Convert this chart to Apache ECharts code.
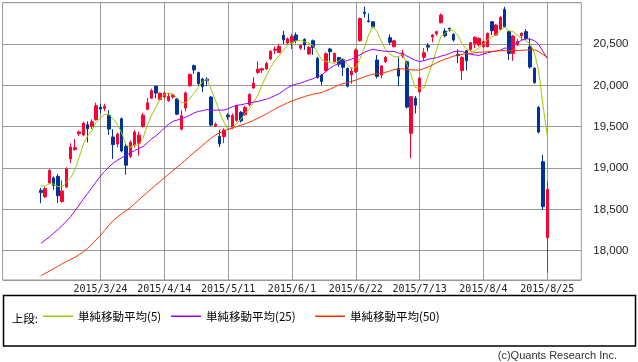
<!DOCTYPE html>
<html><head><meta charset="utf-8">
<script src="https://cdn.jsdelivr.net/npm/echarts@6/dist/echarts.min.js"></script>
<style>html,body{margin:0;padding:0;background:#fff}#c{width:638px;height:362px}</style>
</head><body><div id="c"></div>
<script>
const dates = ['2015/3/4','2015/3/5','2015/3/6','2015/3/9','2015/3/10','2015/3/11','2015/3/12','2015/3/13','2015/3/16','2015/3/17',
'2015/3/18','2015/3/19','2015/3/20','2015/3/23','2015/3/24','2015/3/25','2015/3/26','2015/3/27','2015/3/30','2015/3/31',
'2015/4/1','2015/4/2','2015/4/3','2015/4/6','2015/4/7','2015/4/8','2015/4/9','2015/4/10','2015/4/13','2015/4/14',
'2015/4/15','2015/4/16','2015/4/17','2015/4/20','2015/4/21','2015/4/22','2015/4/23','2015/4/24','2015/4/27','2015/4/28',
'2015/4/30','2015/5/1','2015/5/7','2015/5/8','2015/5/11','2015/5/12','2015/5/13','2015/5/14','2015/5/15','2015/5/18',
'2015/5/19','2015/5/20','2015/5/21','2015/5/22','2015/5/25','2015/5/26','2015/5/27','2015/5/28','2015/5/29','2015/6/1',
'2015/6/2','2015/6/3','2015/6/4','2015/6/5','2015/6/8','2015/6/9','2015/6/10','2015/6/11','2015/6/12','2015/6/15',
'2015/6/16','2015/6/17','2015/6/18','2015/6/19','2015/6/22','2015/6/23','2015/6/24','2015/6/25','2015/6/26','2015/6/29',
'2015/6/30','2015/7/1','2015/7/2','2015/7/3','2015/7/6','2015/7/7','2015/7/8','2015/7/9','2015/7/10','2015/7/13',
'2015/7/14','2015/7/15','2015/7/16','2015/7/17','2015/7/21','2015/7/22','2015/7/23','2015/7/24','2015/7/27','2015/7/28',
'2015/7/29','2015/7/30','2015/7/31','2015/8/3','2015/8/4','2015/8/5','2015/8/6','2015/8/7','2015/8/10','2015/8/11',
'2015/8/12','2015/8/13','2015/8/14','2015/8/17','2015/8/18','2015/8/19','2015/8/20','2015/8/21','2015/8/24','2015/8/25'];

const opens = [18730,18652,18820,18880,18900,18595,18770,19110,19225,19415,
19400,19525,19505,19585,19735,19720,19640,19375,19290,19597,
19262,19142,19280,19300,19504,19710,19845,19990,19830,19860,
19815,19860,19835,19470,19726,19996,20238,20157,20077,20075,
19859,19505,19384,19380,19640,19490,19577,19674,19646,19767,
19968,20157,20185,20198,20319,20425,20399,20605,20512,20520,
20610,20450,20556,20380,20540,20327,20125,20178,20440,20286,
20335,20315,20206,20125,20166,20540,20885,20780,20770,20306,
20125,20286,20577,20468,20206,20355,20286,19420,19843,19923,
20339,20480,20585,20625,20758,20657,20690,20617,20375,20178,
20419,20435,20508,20488,20468,20468,20770,20609,20677,20919,
20649,20387,20490,20600,20650,20467,20206,19734,19077,18157];

const closes = [18703,18751,18971,18790,18665,18723,18991,19254,19246,19437,
19544,19476,19560,19754,19713,19746,19471,19285,19411,19206,
19034,19312,19435,19397,19640,19790,19937,19907,19905,19908,
19869,19885,19652,19634,19909,20133,20187,20020,19983,20058,
19520,19531,19291,19460,19620,19640,19754,19570,19732,19890,
20026,20196,20202,20264,20413,20437,20472,20551,20563,20590,
20543,20485,20488,20460,20457,20096,20046,20382,20407,20387,
20257,20219,19990,20174,20428,20809,20868,20771,20706,20109,
20235,20339,20522,20539,20112,20390,19737,19863,19760,20089,
20395,20463,20610,20650,20850,20600,20680,20548,20360,20339,
20298,20516,20581,20568,20528,20629,20661,20730,20822,20710,
20387,20597,20530,20630,20568,20222,20033,19435,18533,18743];

const lows = [18575,18640,18805,18740,18580,18580,18760,19060,19210,19390,
19385,19310,19470,19575,19660,19690,19400,19110,19250,19190,
18920,19120,19250,19150,19490,19700,19835,19845,19815,19840,
19800,19840,19640,19455,19686,19980,20140,20000,19920,19990,
19505,19495,19255,19300,19585,19470,19560,19550,19630,19750,
19960,20140,20150,20190,20305,20380,20390,20500,20500,20440,
20510,20430,20430,20370,20370,20080,20000,20170,20290,20280,
20225,20113,19975,20020,20150,20530,20820,20760,20690,20085,
20085,20270,20490,20460,19990,20330,19720,19118,19660,19900,
20300,20410,20520,20600,20750,20580,20650,20530,20270,20065,
20180,20420,20450,20470,20450,20460,20610,20600,20670,20700,
20307,20297,20480,20540,20550,20200,20020,19420,18492,17734];

const highs = [18760,18770,18990,18900,18930,18850,19010,19300,19350,19455,
19560,19565,19590,19790,19780,19778,19700,19470,19430,19610,
19300,19335,19460,19440,19666,19850,19960,20000,19915,19920,
19910,19895,19845,19700,19925,20145,20252,20165,20090,20100,
19870,19550,19465,19480,19665,19660,19765,19690,19750,19905,
20100,20290,20215,20285,20425,20470,20500,20660,20580,20620,
20640,20495,20570,20475,20555,20345,20135,20400,20455,20395,
20345,20325,20215,20215,20447,20820,20955,20870,20775,20367,
20245,20355,20617,20550,20340,20430,20300,19870,19870,20100,
20450,20510,20620,20660,20870,20690,20700,20630,20435,20350,
20425,20525,20595,20580,20540,20640,20780,20740,20840,20950,
20660,20610,20560,20640,20680,20570,20220,19750,19158,18835];

const ma5 = [18786,18779,18813,18806,18776,18780,18828,18885,18976,19130,
19294,19391,19453,19554,19609,19650,19649,19594,19525,19424,
19281,19250,19280,19277,19364,19515,19640,19734,19836,19889,
19905,19895,19844,19790,19790,19843,19903,19977,20046,20076,
19954,19822,19677,19556,19468,19489,19536,19591,19662,19716,
19796,19883,20009,20116,20220,20302,20358,20427,20487,20518,
20540,20540,20527,20507,20484,20395,20309,20288,20278,20264,
20296,20330,20252,20205,20214,20324,20454,20610,20716,20653,
20538,20430,20380,20347,20347,20376,20257,20124,19972,19967,
19969,20114,20263,20437,20588,20629,20673,20662,20602,20500,
20441,20409,20417,20457,20495,20558,20586,20614,20666,20706,
20662,20648,20607,20569,20536,20502,20390,20173,19757,19395];

const ma25 = [18089,18128,18166,18212,18256,18305,18358,18412,18482,18553,
18625,18694,18765,18835,18903,18960,19014,19060,19095,19125,
19155,19183,19210,19236,19260,19304,19351,19389,19433,19483,
19529,19564,19580,19596,19615,19638,19667,19685,19694,19708,
19699,19701,19702,19700,19717,19741,19759,19764,19777,19787,
19797,19807,19819,19833,19853,19876,19900,19936,19973,19999,
20016,20027,20046,20065,20081,20104,20125,20169,20210,20240,
20266,20284,20300,20318,20340,20371,20398,20420,20438,20426,
20418,20412,20411,20410,20391,20385,20355,20330,20303,20288,
20299,20316,20325,20335,20353,20366,20385,20407,20414,20410,
20390,20376,20368,20362,20379,20394,20407,20415,20426,20450,
20451,20486,20512,20546,20565,20558,20541,20494,20410,20326];

const ma50 = [17699,17726,17752,17782,17812,17842,17870,17895,17920,17952,
17988,18028,18080,18134,18187,18246,18308,18365,18408,18448,
18485,18520,18568,18615,18660,18705,18750,18795,18838,18882,
18925,18968,19010,19052,19097,19143,19190,19230,19275,19320,
19362,19400,19425,19448,19468,19485,19502,19518,19535,19555,
19578,19603,19628,19655,19685,19715,19742,19765,19790,19812,
19830,19848,19866,19880,19895,19902,19914,19936,19955,19979,
20004,20022,20033,20048,20064,20084,20103,20120,20136,20140,
20148,20157,20174,20192,20196,20201,20192,20189,20185,20185,
20203,20221,20247,20273,20297,20317,20335,20354,20367,20376,
20381,20388,20395,20401,20403,20407,20410,20414,20419,20422,
20419,20421,20422,20425,20427,20429,20429,20410,20373,20340];

const tickLabels = ['2015/3/24','2015/4/14','2015/5/11','2015/6/1','2015/6/22','2015/7/13','2015/8/4','2015/8/25'];
const seriesNames = ['単純移動平均(5)','単純移動平均(25)','単純移動平均(50)'];

const PAD_BEFORE = 9, PAD_AFTER = 8;
const categories = [];
for (let i = 0; i < PAD_BEFORE; i++) categories.push('pre' + i);
dates.forEach(d => categories.push(d));
for (let i = 0; i < PAD_AFTER; i++) categories.push('post' + i);

const showTick = (idx, val) => tickLabels.indexOf(val) >= 0;
const candleData = dates.map((d, i) => [PAD_BEFORE + i, opens[i], closes[i], lows[i], highs[i]]);
const lineData = arr => arr.map((v, i) => [PAD_BEFORE + i, v]);

const legendCommon = {
  padding: 0, icon: 'rect', itemWidth: 30, itemHeight: 1.5, selectedMode: false, top: 310.5,
  textStyle: { fontFamily: '"Noto Sans CJK JP"', fontSize: 11.5, color: '#000' }
};

const chart = echarts.init(document.getElementById('c'), null, { renderer: 'canvas' });
chart.setOption({
  animation: false,
  backgroundColor: '#fff',
  grid: { left: 2.6, right: 56.7, top: 2.7, bottom: 82, show: true, borderColor: '#999', borderWidth: 1, backgroundColor: '#fff' },
  xAxis: {
    type: 'category', data: categories, boundaryGap: false,
    axisLine: { show: false }, axisTick: { show: false },
    axisLabel: { interval: showTick, margin: 4, fontFamily: '"DejaVu Sans Mono"', fontSize: 10, color: '#222' },
    splitLine: { show: true, interval: showTick, lineStyle: { color: '#999', width: 1 } }
  },
  yAxis: {
    type: 'value', position: 'right', min: 17646, max: 21000, splitNumber: 5,
    axisLine: { show: false }, axisTick: { show: false },
    axisLabel: { margin: 12, showMinLabel: false, showMaxLabel: false,
      formatter: v => Math.round(v).toLocaleString('en-US'),
      fontFamily: '"Liberation Sans"', fontSize: 11.5, color: '#222' },
    splitLine: { show: true, lineStyle: { color: '#999', width: 1 } }
  },
  legend: [
    Object.assign({ data: [seriesNames[0]], left: 43 }, legendCommon),
    Object.assign({ data: [seriesNames[1]], left: 171 }, legendCommon),
    Object.assign({ data: [seriesNames[2]], left: 315 }, legendCommon)
  ],
  graphic: [
    { type: 'rect', silent: true, shape: { x: 3.5, y: 295.5, width: 632, height: 50.5 },
      style: { fill: 'none', stroke: '#000', lineWidth: 1.5 } },
    { type: 'text', silent: true, style: { x: 11.7, y: 318.5, text: '上段:', verticalAlign: 'middle',
      font: '11.5px "Noto Sans CJK JP"', fill: '#000' } },
    { type: 'text', silent: true, style: { x: 617, y: 356, text: '(c)Quants Research Inc.', align: 'right', verticalAlign: 'middle',
      font: '11px "Liberation Sans"', fill: '#333' } }
  ],
  series: [
    { type: 'candlestick', data: candleData, encode: { x: 0, y: [1, 2, 3, 4] }, barWidth: 3,
      itemStyle: { color: '#ff0033', color0: '#003399', borderColor: '#ff0033', borderColor0: '#003399', borderWidth: 1 } },
    { name: seriesNames[0], type: 'line', data: lineData(ma5), showSymbol: false, symbol: 'none',
      lineStyle: { color: '#99cc00', width: 1 }, itemStyle: { color: '#99cc00' } },
    { name: seriesNames[1], type: 'line', data: lineData(ma25), showSymbol: false, symbol: 'none',
      lineStyle: { color: '#9900ff', width: 1 }, itemStyle: { color: '#9900ff' } },
    { name: seriesNames[2], type: 'line', data: lineData(ma50), showSymbol: false, symbol: 'none',
      lineStyle: { color: '#ff3300', width: 1 }, itemStyle: { color: '#ff3300' } }
  ]
});
</script>
</body></html>
